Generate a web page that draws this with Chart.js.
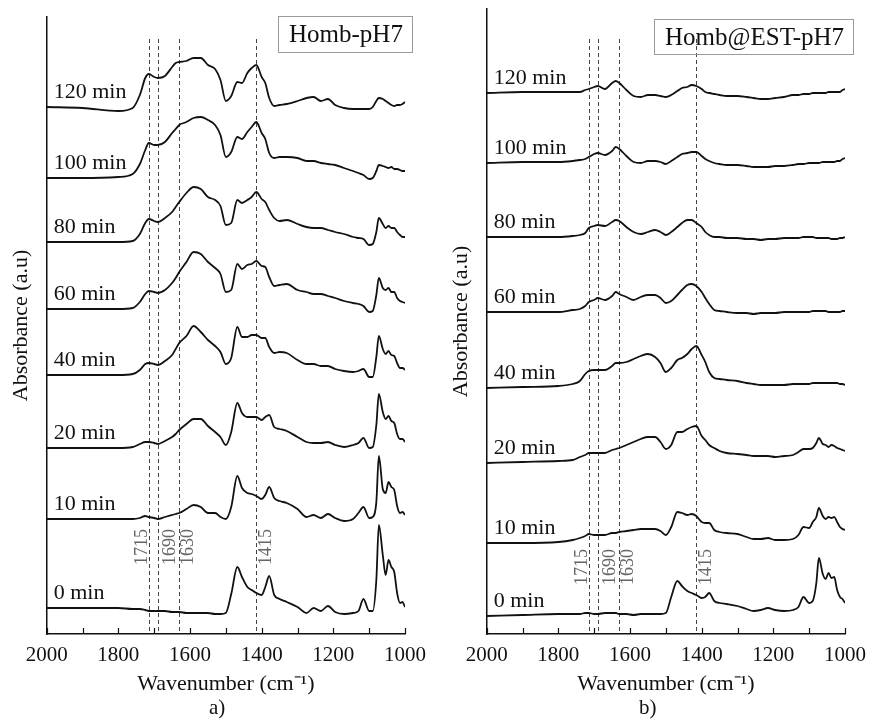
<!DOCTYPE html>
<html>
<head>
<meta charset="utf-8">
<script src="https://cdn.jsdelivr.net/npm/chart.js@4.4.0/dist/chart.umd.min.js"></script>
<style>
	body { margin: 0; background: #fff; width: 875px; height: 720px; position: relative; overflow: hidden; font-family: 'Liberation Serif', serif; color: #111; }
	.panel { position: absolute; top: 0; width: 435px; height: 720px; }
	.tag { position: absolute; box-sizing: border-box; border: 1px solid #9a9a9a; font-size: 25px; line-height: 34px; padding-left: 10px; white-space: nowrap; }
	.cap { position: absolute; top: 697px; font-size: 21px; line-height: 21px; }
</style>
</head>
<body>
<div class="panel" style="left:0"><canvas id="chartA" width="435" height="720"></canvas></div>
<div class="panel" style="left:440px"><canvas id="chartB" width="435" height="720"></canvas></div>
<div class="tag" style="left:278px;top:16px;width:135px;height:37px">Homb-pH7</div>
<div class="tag" style="left:654px;top:19px;width:200px;height:36px">Homb@EST-pH7</div>
<div class="cap" style="left:209px">a)</div>
<div class="cap" style="left:639px">b)</div>

<script>
/* FTIR spectra, stacked by reaction time */
const wavenumbers = [2000, 1900, 1800, 1760, 1740, 1725, 1715, 1700, 1690, 1670, 1650, 1640, 1630, 1610, 1590, 1570, 1550, 1530, 1515, 1500,
	1485, 1468, 1455, 1440, 1428, 1415, 1400, 1390, 1379, 1365, 1350, 1330, 1300, 1275, 1255, 1235, 1215, 1195, 1170, 1145,
	1130, 1116, 1100, 1090, 1080, 1073, 1062, 1054, 1046, 1038, 1030, 1022, 1014, 1007, 1000];
const times = ['0 min', '10 min', '20 min', '40 min', '60 min', '80 min', '100 min', '120 min'];
const markers = [1715, 1690, 1630, 1415];

// a) Homb-pH7
const homb0 = [2.6,2.6,2.6,2.5,2.5,2.4,2.3,2.3,2.3,2.3,2.2,2.2,2.2,2.1,2.1,2.1,2.1,2.0,2.0,2.1,4.0,6.7,5.7,4.7,4.4,4.1,3.9,4.7,5.8,3.9,3.5,3.2,2.7,2.1,2.6,2.3,2.8,2.2,2.0,2.1,2.3,3.5,2.3,2.3,5.4,10.9,7.9,5.9,7.4,6.7,6.2,4.1,3.1,3.2,2.7];
const homb10 = [11.5,11.5,11.5,11.5,11.6,11.8,11.7,11.6,11.5,11.7,11.9,12.0,12.1,12.5,12.9,12.7,12.1,12.1,11.7,11.5,12.7,15.8,14.6,14.1,14.0,13.8,13.5,13.9,14.7,13.6,13.3,13.1,12.5,11.7,11.9,11.6,12.0,11.6,11.3,11.5,12.1,12.7,11.6,11.7,13.2,17.8,14.5,14.1,15.2,14.7,14.4,12.8,12.1,12.2,11.9];
const homb20 = [18.6,18.6,18.6,18.7,19.0,19.2,19.2,19.1,19.0,19.3,19.7,20.0,20.4,21.0,21.5,21.5,20.8,20.2,19.7,18.9,20.2,23.1,22.1,21.7,21.7,21.7,21.4,21.7,21.9,20.7,20.5,20.3,19.7,19.2,19.1,19.1,19.2,18.9,18.7,18.9,19.1,19.6,18.6,18.7,20.9,24.0,22.2,21.5,21.8,21.3,21.1,20.0,19.5,19.5,19.2];
const homb40 = [25.9,25.9,25.9,26.0,26.4,27.0,27.1,27.0,26.9,27.3,27.9,28.5,29.1,29.8,30.8,30.2,29.4,28.8,28.2,27.0,27.6,30.7,29.7,29.7,29.9,29.9,29.6,29.6,28.7,28.1,28.2,28.1,27.4,27.0,27.0,26.8,26.8,26.5,26.3,26.2,26.3,26.5,25.7,25.7,27.7,29.8,28.5,28.0,28.3,27.9,27.8,27.1,26.6,26.6,26.4];
const homb60 = [32.5,32.5,32.5,32.6,33.2,34.0,34.3,34.2,34.1,34.4,35.1,35.6,36.2,37.2,38.2,38.0,37.2,36.6,36.0,34.2,34.4,37.0,36.5,36.9,37.0,37.3,36.8,36.7,35.7,34.8,34.9,35.0,34.4,34.2,34.0,34.0,33.8,33.6,33.3,33.1,33.0,32.8,32.2,32.3,33.9,35.6,34.6,34.4,34.6,34.2,34.2,33.6,33.3,33.2,33.1];
const homb80 = [39.2,39.2,39.2,39.3,40.0,41.1,41.5,41.3,41.2,41.6,42.2,42.7,43.2,44.1,44.7,44.5,43.7,43.4,42.8,40.9,41.1,43.4,43.1,43.4,43.7,44.2,43.5,43.2,42.4,41.6,41.3,41.4,41.0,40.7,40.6,40.6,40.4,40.2,40.0,39.7,39.6,39.5,38.9,39.0,40.2,41.6,41.0,40.6,40.8,40.6,40.6,40.2,39.9,39.7,39.7];
const homb100 = [45.6,45.6,45.7,46.0,47.0,48.4,49.1,48.9,48.9,49.2,50.1,50.5,50.9,51.2,51.6,51.7,51.4,50.9,49.9,47.7,48.2,49.7,49.5,50.2,50.7,51.2,50.1,49.5,48.1,47.6,47.7,47.7,47.6,47.3,47.3,47.1,47.0,46.9,46.6,46.3,46.1,45.9,45.5,45.6,46.3,46.9,46.8,46.7,46.6,46.7,46.5,46.5,46.4,46.3,46.3];
const homb120 = [52.7,52.6,52.3,52.6,53.9,55.6,56.0,55.7,55.6,55.8,56.7,57.1,57.2,57.3,57.6,57.6,56.9,56.5,55.4,53.3,53.8,55.2,55.1,56.1,56.6,56.9,55.7,55.1,53.6,52.8,52.9,53.0,53.3,53.6,53.7,53.3,53.5,52.9,52.6,52.5,52.5,52.5,52.5,52.7,53.3,53.6,53.5,53.3,53.1,52.9,52.8,52.9,52.9,53.0,53.2];

// b) Homb@EST-pH7
const est0 = [1.8,1.9,2.0,2.0,2.0,2.1,2.1,2.0,2.0,2.1,2.1,2.1,2.0,2.0,1.9,2.0,2.0,2.0,2.0,2.1,3.7,5.3,4.8,4.3,4.1,3.9,3.6,3.7,4.1,3.3,3.1,3.0,2.8,2.5,2.3,2.4,2.6,2.4,2.3,2.4,2.7,3.7,3.1,3.3,5.1,7.6,6.0,5.5,6.1,5.6,5.7,4.4,3.7,3.5,3.1];
const est10 = [9.1,9.1,9.2,9.4,9.6,9.8,10.0,9.9,9.9,9.9,10.1,10.1,10.2,10.3,10.4,10.5,10.5,10.5,10.3,9.9,10.7,12.2,12.1,11.9,12.0,11.8,11.2,11.1,11.1,10.4,10.2,10.1,10.0,9.7,9.5,9.5,9.6,9.4,9.4,9.5,9.9,10.7,10.6,11.2,11.7,12.6,11.8,11.5,11.7,11.6,11.7,11.2,10.7,10.5,10.4];
const est20 = [17.1,17.2,17.3,17.4,17.7,17.9,18.1,18.1,18.1,18.1,18.4,18.5,18.6,18.9,19.2,19.5,19.7,19.7,19.2,18.5,18.9,20.2,20.2,20.5,20.7,20.8,19.8,19.4,18.9,18.6,18.3,18.1,18.0,17.9,17.8,17.8,17.8,17.7,17.8,17.9,18.2,18.5,18.5,18.6,19.1,19.6,19.0,18.9,18.7,18.9,18.8,18.6,18.5,18.4,18.3];
const est40 = [24.6,24.7,24.8,25.0,25.3,26.0,26.3,26.4,26.4,26.4,26.8,27.1,27.1,27.2,27.5,27.8,28.0,27.7,27.1,26.2,26.6,27.4,27.6,28.0,28.5,28.8,27.9,27.2,26.2,25.6,25.5,25.4,25.3,25.1,25.0,24.9,24.9,24.9,24.9,25.0,25.0,25.0,25.0,25.1,25.1,25.1,25.1,25.1,25.1,25.1,25.1,25.1,25.0,25.0,24.9];
const est60 = [32.2,32.2,32.2,32.4,32.5,32.8,33.2,33.4,33.6,33.4,33.8,34.2,34.0,33.7,33.4,33.7,33.9,33.9,33.6,33.1,33.3,33.9,34.4,34.9,35.0,34.8,34.2,33.6,33.0,32.4,32.3,32.2,32.1,32.1,32.0,32.1,32.1,32.1,32.2,32.2,32.2,32.2,32.2,32.3,32.3,32.3,32.3,32.3,32.2,32.2,32.2,32.2,32.2,32.3,32.3];
const est80 = [39.7,39.7,39.7,39.8,39.9,40.1,40.6,40.8,40.9,40.8,41.2,41.4,41.3,40.7,40.2,40.0,40.2,40.4,40.2,39.9,40.2,40.7,41.1,41.4,41.4,41.1,40.7,40.2,39.9,39.7,39.7,39.6,39.6,39.5,39.5,39.4,39.5,39.5,39.6,39.6,39.6,39.7,39.7,39.7,39.6,39.6,39.6,39.6,39.6,39.5,39.5,39.5,39.6,39.6,39.7];
const est100 = [47.1,47.2,47.2,47.3,47.4,47.5,47.7,48.0,48.1,47.9,48.3,48.7,48.5,47.8,47.2,47.1,47.3,47.3,47.2,47.0,47.3,47.7,48.0,48.1,48.2,48.2,47.8,47.5,47.3,47.1,47.0,46.9,46.9,46.8,46.7,46.7,46.7,46.8,46.8,46.9,47.0,47.0,47.1,47.1,47.1,47.1,47.2,47.2,47.2,47.2,47.2,47.3,47.3,47.5,47.6];
const est120 = [54.1,54.2,54.2,54.2,54.2,54.4,54.5,54.7,54.8,54.5,55.1,55.3,55.1,54.4,53.8,53.7,53.9,53.9,53.8,53.7,53.9,54.3,54.6,54.7,54.9,54.8,54.5,54.2,54.1,54.0,53.9,53.8,53.8,53.7,53.6,53.5,53.5,53.6,53.7,53.9,53.9,54.0,54.0,54.1,54.1,54.1,54.1,54.1,54.2,54.2,54.2,54.2,54.2,54.4,54.5];

Chart.defaults.font.family = "'Liberation Serif', serif";
Chart.defaults.color = '#111';

// label nudges (px) for the rotated marker numbers, same order as markers
const markerShift = [-7, 12, 8.5, 10];

const overlay = {
	id: 'overlay',
	beforeDatasetsDraw(chart) {
		const {ctx, chartArea, scales: {x, y}} = chart;
		ctx.save();
		ctx.strokeStyle = '#444';
		ctx.lineWidth = 1;
		ctx.setLineDash([4, 3]);
		markers.forEach(m => {
			const px = Math.round(x.getPixelForValue(m)) + 0.5;
			ctx.beginPath();
			ctx.moveTo(px, y.getPixelForValue(59.5));
			ctx.lineTo(px, chartArea.bottom - 2);
			ctx.stroke();
		});
		ctx.restore();
	},
	afterDraw(chart, args, opts) {
		const {ctx, chartArea, scales: {x, y}} = chart;
		ctx.save();
		// inward tick marks on the wavenumber axis
		ctx.strokeStyle = '#111';
		ctx.lineWidth = 1.2;
		x.ticks.forEach(t => {
			const px = Math.round(x.getPixelForValue(t.value)) + 0.5;
			ctx.beginPath();
			ctx.moveTo(px, chartArea.bottom);
			ctx.lineTo(px, chartArea.bottom - 6);
			ctx.stroke();
		});
		// rotated marker numbers
		ctx.fillStyle = '#666';
		ctx.font = "18px 'Liberation Serif'";
		ctx.textAlign = 'center';
		ctx.textBaseline = 'middle';
		markers.forEach((m, i) => {
			ctx.save();
			ctx.translate(x.getPixelForValue(m) + markerShift[i], chartArea.bottom - opts.labelRise);
			ctx.rotate(-Math.PI / 2);
			ctx.fillText(String(m), 0, 0);
			ctx.restore();
		});
		// time labels above each trace
		ctx.fillStyle = '#111';
		ctx.font = "22px 'Liberation Serif'";
		ctx.textAlign = 'left';
		ctx.textBaseline = 'alphabetic';
		chart.data.datasets.forEach(ds => {
			ctx.fillText(ds.label, chartArea.left + 7, y.getPixelForValue(ds.data[0].y) - 9);
		});
		ctx.restore();
	}
};

function makeChart(id, series, yMax, topPad, labelRise) {
	return new Chart(document.getElementById(id), {
		type: 'line',
		data: {
			datasets: series.map((s, i) => ({
				label: times[i],
				data: wavenumbers.map((w, k) => ({x: w, y: s[k]})),
				borderColor: '#111',
				borderWidth: 1.8,
				pointRadius: 0,
				cubicInterpolationMode: 'monotone',
				fill: false
			}))
		},
		options: {
			responsive: false,
			animation: false,
			layout: {padding: {top: topPad, right: 23.3, left: 0, bottom: 0}},
			plugins: {
				legend: {display: false},
				tooltip: {enabled: false},
				overlay: {labelRise: labelRise}
			},
			scales: {
				x: {
					type: 'linear', reverse: true, min: 1000, max: 2000,
					afterFit(s) { s.height = 86; },
					grid: {display: false, drawTicks: false},
					border: {color: '#111', width: 1.5},
					ticks: {
						stepSize: 100, autoSkip: false, maxRotation: 0, padding: 9,
						font: {size: 21},
						callback: v => (v % 200 === 0 ? String(v) : '')
					},
					title: {display: true, text: 'Wavenumber (cm\u207B\u00B9)', font: {size: 22}, padding: {bottom: 23}}
				},
				y: {
					min: 0, max: yMax,
					afterFit(s) { s.width = 46.7; },
					grid: {display: false, drawTicks: false},
					border: {color: '#111', width: 1.5},
					ticks: {display: false},
					title: {display: true, text: 'Absorbance (a.u)', font: {size: 22}, padding: {top: 8}}
				}
			}
		},
		plugins: [overlay]
	});
}

makeChart('chartA', [homb0, homb10, homb20, homb40, homb60, homb80, homb100, homb120], 61.7, 17, 87);
makeChart('chartB', [est0, est10, est20, est40, est60, est80, est100, est120], 62.5, 9, 67);
</script>
</body>
</html>
